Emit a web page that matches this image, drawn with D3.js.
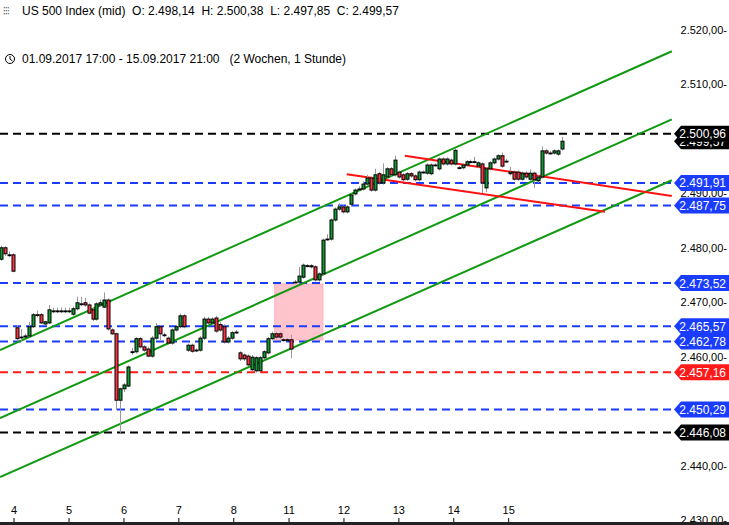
<!DOCTYPE html>
<html><head><meta charset="utf-8">
<script src="https://cdn.jsdelivr.net/npm/d3@7/dist/d3.min.js"></script>
<style>body{margin:0;background:#fff}svg{display:block;font-family:"Liberation Sans",Arial,sans-serif}</style>
</head><body><svg id="c" width="729" height="525"></svg>
<script>
const candles = [
[2477.9,2480.4,2477.6,2480.0],[2480.0,2480.3,2478.5,2478.9],[2478.7,2479.3,2478.3,2478.7],[2478.7,2479.0,2475.5,2475.7],
[2465.3,2465.8,2463.1,2463.3],[2463.6,2465.1,2462.7,2463.6],[2463.6,2464.2,2463.4,2463.8],[2463.8,2466.4,2463.6,2465.5],
[2465.5,2468.0,2465.3,2467.7],[2467.7,2468.5,2467.2,2467.7],[2467.7,2468.0,2466.0,2466.2],[2466.0,2466.6,2465.8,2466.4],
[2466.2,2469.5,2466.0,2468.6],[2468.4,2469.0,2468.0,2468.4],[2468.4,2469.0,2468.0,2468.4],[2468.4,2469.0,2468.0,2468.4],
[2468.4,2469.0,2468.0,2468.4],[2468.4,2469.0,2468.0,2468.4],[2467.8,2469.2,2467.5,2468.8],[2468.8,2471.0,2468.5,2469.9],
[2469.7,2471.0,2469.3,2469.7],[2469.9,2470.8,2469.2,2469.5],[2469.5,2469.8,2467.8,2468.0],[2468.6,2469.0,2466.5,2466.9],
[2466.9,2470.0,2466.6,2469.7],[2469.5,2470.5,2469.2,2469.9],[2469.1,2471.8,2468.9,2470.4],[2470.4,2470.7,2464.8,2465.1],
[2464.9,2465.2,2464.0,2464.2],[2464.2,2464.4,2450.2,2452.0],[2452.0,2454.3,2446.0,2454.1],[2454.1,2455.2,2453.5,2454.8],
[2454.6,2458.4,2454.4,2458.1],[2460.9,2461.6,2460.4,2460.9],[2460.9,2463.6,2460.6,2463.3],[2463.3,2463.6,2461.5,2461.8],
[2461.8,2462.1,2460.9,2461.2],[2461.4,2461.8,2459.9,2460.1],[2460.1,2463.8,2459.8,2463.4],[2463.4,2466.2,2463.1,2465.5],
[2465.5,2465.8,2463.0,2464.2],[2464.0,2464.4,2463.6,2464.0],[2463.4,2463.7,2462.2,2462.5],[2462.5,2465.2,2462.2,2464.9],
[2464.9,2465.8,2464.6,2465.5],[2465.5,2467.9,2465.2,2467.5],[2467.5,2467.8,2465.2,2465.5],[2461.2,2462.4,2460.9,2462.1],
[2462.1,2462.4,2460.7,2461.0],[2461.2,2461.5,2460.9,2461.2],[2461.2,2463.8,2460.9,2463.4],[2463.4,2467.3,2463.1,2466.9],
[2466.9,2467.3,2465.9,2466.2],[2466.2,2467.2,2465.9,2466.9],[2467.1,2467.5,2464.4,2464.7],[2465.9,2466.3,2464.6,2464.9],
[2465.5,2466.0,2462.4,2462.7],[2462.7,2463.8,2462.4,2463.4],[2463.4,2464.7,2463.1,2464.4],[2464.5,2464.9,2464.2,2464.5],
[2460.7,2461.0,2459.2,2459.6],[2460.3,2460.6,2459.2,2459.6],[2460.1,2460.4,2458.2,2458.5],[2457.6,2460.3,2457.3,2459.9],
[2457.4,2460.1,2457.1,2459.8],[2457.4,2460.1,2457.1,2459.8],[2459.8,2461.2,2459.5,2460.9],[2460.7,2463.6,2460.4,2463.3],
[2463.3,2464.6,2463.0,2464.2],[2464.2,2464.5,2463.3,2463.6],[2464.2,2464.5,2463.3,2463.6],[2463.1,2463.4,2462.8,2463.1],
[2463.1,2463.4,2462.8,2463.1],[2463.1,2464.0,2459.7,2461.4],[2473.7,2474.1,2473.4,2473.7],[2473.7,2476.5,2473.4,2474.8],
[2474.6,2477.1,2474.3,2476.8],[2476.7,2477.0,2476.4,2476.7],[2476.7,2477.0,2476.2,2476.5],[2476.5,2476.8,2473.8,2474.1],
[2474.1,2475.5,2473.8,2475.2],[2475.2,2481.7,2474.9,2481.4],[2481.6,2482.5,2481.3,2481.6],[2481.6,2485.4,2481.3,2485.1],
[2485.1,2487.4,2484.8,2487.1],[2487.1,2488.2,2486.8,2487.5],[2487.5,2487.8,2486.3,2486.6],[2486.6,2487.8,2486.3,2487.5],
[2488.0,2490.0,2487.7,2489.7],[2489.9,2490.9,2489.6,2490.6],[2490.8,2491.3,2490.5,2490.8],[2490.8,2492.2,2490.5,2491.7],
[2491.7,2493.4,2491.4,2492.8],[2492.8,2493.1,2490.3,2490.6],[2490.6,2494.5,2490.3,2493.4],[2493.6,2493.9,2491.6,2491.9],
[2491.9,2495.5,2491.6,2493.4],[2493.0,2494.8,2492.7,2494.5],[2494.5,2494.8,2493.1,2493.4],[2493.4,2496.9,2493.1,2496.1],
[2493.9,2494.2,2492.7,2493.0],[2493.4,2493.7,2492.2,2492.5],[2492.6,2493.9,2492.3,2493.6],[2493.6,2493.9,2492.9,2493.2],
[2493.2,2493.5,2492.2,2492.5],[2492.5,2494.2,2492.2,2493.9],[2493.9,2494.2,2493.6,2493.9],[2493.7,2495.5,2493.4,2495.2],
[2493.6,2495.5,2493.3,2495.2],[2495.2,2495.5,2494.9,2495.2],[2494.5,2496.6,2494.2,2496.3],[2496.3,2496.6,2495.1,2495.4],
[2495.4,2496.6,2495.1,2496.3],[2496.1,2496.4,2495.1,2495.4],[2495.4,2498.2,2495.1,2497.9],[2494.7,2495.0,2494.4,2494.7],
[2494.7,2495.5,2494.4,2495.2],[2495.2,2496.1,2494.9,2495.8],[2495.8,2496.2,2495.5,2495.8],[2495.8,2496.7,2495.5,2495.8],
[2495.0,2495.9,2494.7,2495.6],[2495.4,2495.7,2490.0,2491.9],[2491.0,2494.8,2490.2,2494.5],[2494.5,2495.9,2494.2,2495.6],
[2495.6,2496.6,2495.3,2496.3],[2496.3,2497.2,2496.0,2496.9],[2496.9,2497.5,2494.7,2495.0],[2495.9,2496.3,2495.6,2495.9],
[2493.6,2494.9,2493.3,2493.9],[2493.9,2494.2,2492.3,2492.6],[2493.9,2494.2,2492.3,2492.6],[2492.6,2494.0,2492.3,2493.7],
[2493.7,2494.0,2492.7,2493.0],[2492.6,2494.4,2492.3,2493.7],[2493.7,2494.0,2491.0,2492.5],[2492.3,2493.3,2491.9,2493.0],
[2493.0,2498.6,2492.7,2497.8],[2497.8,2498.1,2497.1,2497.4],[2497.4,2497.8,2497.1,2497.4],[2497.4,2498.1,2497.1,2497.8],
[2497.2,2498.1,2496.9,2497.8],[2498.14,2500.38,2497.85,2499.57]
];
const dayLabels = ["4","5","6","7","8","11","12","13","14","15"];
const dayPos = [3.27,17.1,30.9,44.7,58.5,72.4,86.2,100,113.8,127.6];
const yTicks = [2520,2510,2500,2490,2480,2470,2460,2450,2440,2430];
const levels = [
 {v:2491.91,c:"#1a3cff"},{v:2487.75,c:"#1a3cff"},{v:2473.52,c:"#1a3cff"},{v:2465.57,c:"#1a3cff"},
 {v:2462.78,c:"#1a3cff"},{v:2450.29,c:"#1a3cff"},{v:2457.16,c:"#ff1a1a"},{v:2446.08,c:"#000"},{v:2500.96,c:"#000"}];
const currentPrice = 2499.57;
const greenLines = [[[-0.25,2461.2],[168.6,2516.1]],[[-0.25,2448.7],[168.6,2503.6]],[[-0.25,2437.9],[168.6,2492.4]]];
const redLines = [[[101.5,2496.9],[168.6,2489.5]],[[86.9,2493.5],[151.8,2486.6]]];
const gapBox = {i0:68.8,i1:80.9,p0:2463.06,p1:2473.35};

const svg=d3.select("#c");
const x=d3.scaleLinear().domain([0,141]).range([1,562]);
const y=d3.scaleLinear().domain([2430,2520]).range([520,30]);
const fmt=v=>d3.format(",.2f")(v).replace(/,/g,"#").replace(".",",").replace(/#/g,".");
const plotR=672;

// y ticks
svg.append("g").selectAll("text").data(yTicks).join("text")
 .attr("x",727).attr("y",d=>y(d)+4).attr("text-anchor","end").attr("font-size",11).attr("fill","#000")
 .text(d=>fmt(d)+"-");

// gap box
svg.append("rect").attr("x",x(gapBox.i0)).attr("width",x(gapBox.i1)-x(gapBox.i0))
 .attr("y",y(gapBox.p1)).attr("height",y(gapBox.p0)-y(gapBox.p1))
 .attr("fill","#ffc4cc").attr("stroke","#ffb0bb");

// levels
svg.append("g").selectAll("line").data(levels).join("line")
 .attr("x1",0).attr("x2",plotR).attr("y1",d=>y(d.v)).attr("y2",d=>y(d.v))
 .attr("stroke",d=>d.c).attr("stroke-width",2).attr("stroke-dasharray","8,5");

// channel lines
const lg=svg.append("g");
greenLines.forEach(l=>lg.append("line").attr("x1",x(l[0][0])).attr("y1",y(l[0][1])).attr("x2",x(l[1][0])).attr("y2",y(l[1][1])).attr("stroke","#119911").attr("stroke-width",2));
redLines.forEach(l=>lg.append("line").attr("x1",x(l[0][0])).attr("y1",y(l[0][1])).attr("x2",x(l[1][0])).attr("y2",y(l[1][1])).attr("stroke","#ff1111").attr("stroke-width",2));

// candles
const cg=svg.append("g");
candles.forEach((d,i)=>{
 const [o,h,l,c]=d, cx=Math.round(x(i))+0.5;
 cg.append("line").attr("x1",cx).attr("x2",cx).attr("y1",y(h)).attr("y2",y(l)).attr("stroke","#999");
 const t=y(Math.max(o,c)), b=y(Math.min(o,c));
 const col=c>o?"#119933":(c<o?"#ff3344":"#000");
 cg.append("rect").attr("x",cx-1.5).attr("width",3).attr("y",t).attr("height",Math.max(b-t,0.8))
  .attr("fill",col).attr("stroke","#000").attr("stroke-width",1);
});

// value labels
function label(v,c){
 const yy=y(v);
 const g=svg.append("g");
 g.append("path").attr("d",`M${plotR+2},${yy} L${plotR+9},${yy-8} L729,${yy-8} L729,${yy+8} L${plotR+9},${yy+8} Z`).attr("fill",c);
 g.append("text").attr("x",726).attr("y",yy+4.5).attr("text-anchor","end").attr("font-size",12).attr("fill","#fff").text(fmt(v));
}
label(currentPrice,"#000");
levels.forEach(d=>label(d.v,d.c==="#000"?"#000":d.c));

// x axis
svg.append("rect").attr("x",0).attr("y",522).attr("width",729).attr("height",3).attr("fill","#222");
const xg=svg.append("g");
dayPos.forEach((p,i)=>{
 xg.append("line").attr("x1",x(p)).attr("x2",x(p)).attr("y1",518).attr("y2",522).attr("stroke","#000");
 xg.append("text").attr("x",x(p)).attr("y",514).attr("text-anchor","middle").attr("font-size",11).text(dayLabels[i]);
});

// header
const hd=svg.append("g").attr("font-size",12);
hd.append("text").attr("x",3).attr("y",15).attr("font-size",9).text("⫶⫶⫶");
hd.append("text").attr("x",22).attr("y",15).text("US 500 Index (mid)  O: 2.498,14  H: 2.500,38  L: 2.497,85  C: 2.499,57").attr("xml:space","preserve");
hd.append("circle").attr("cx",10).attr("cy",59).attr("r",4.5).attr("fill","none").attr("stroke","#000");
hd.append("path").attr("d","M10,56 L10,59 L12.5,61").attr("fill","none").attr("stroke","#000");
hd.append("text").attr("x",22).attr("y",63).attr("xml:space","preserve").text("01.09.2017 17:00 - 15.09.2017 21:00   (2 Wochen, 1 Stunde)");
</script></body></html>
